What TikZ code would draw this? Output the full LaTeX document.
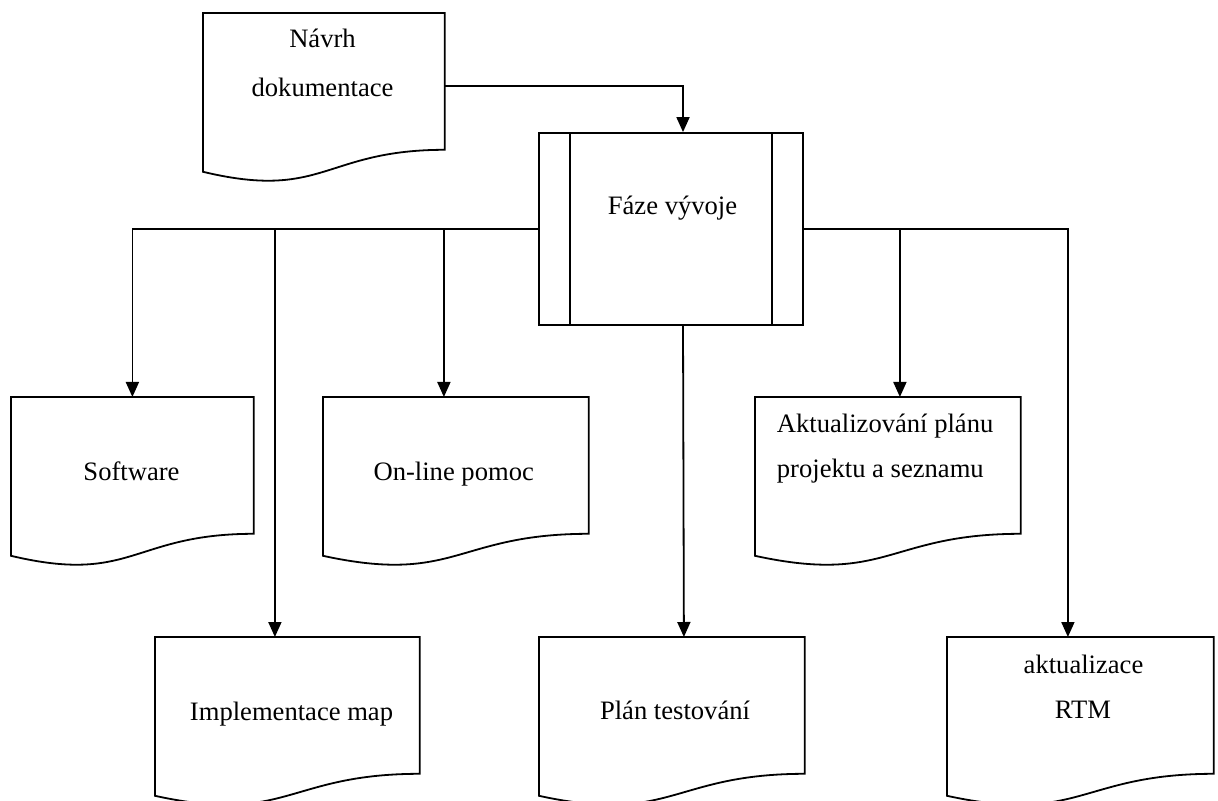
\documentclass[tikz,border=0pt]{standalone}
\usepackage{fontspec}
\setmainfont{Liberation Serif}
\usetikzlibrary{arrows.meta,calc}

% Outline of a flowchart "document" symbol around a docbox node:
% the node covers the flat part, the wavy bottom hangs below it.
\newcommand\drawdocument[1]{%
  \draw (#1.north west) -- (#1.north east) -- (#1.south east)
    .. controls (#1.south) and ($(#1.south)+(0,51)$) ..
    ($(#1.south west)+(0,22)$) -- cycle;}

\begin{document}
\begin{tikzpicture}[x=0.5pt,y=-0.5pt,
  line width=0.9pt,
  docbox/.style={rectangle, draw=none, inner sep=0pt, anchor=north west,
                 minimum height=67.5pt},
  doctext/.style={font=\fontsize{13.3}{16}\selectfont, inner sep=0pt, anchor=base},
  arr/.style={-{Triangle[length=7.5pt,width=6.5pt]}},
]
\useasboundingbox (0,0) rectangle (1218,801);
\clip (0,0) rectangle (1218,801);

% document boxes
\node[docbox, minimum width=120pt]   (navrh)    at (203,13)  {};
\node[docbox, minimum width=120.5pt] (software) at (11,397)  {};
\node[docbox, minimum width=132pt]   (online)   at (323,397) {};
\node[docbox, minimum width=132pt]   (akt)      at (755,397) {};
\node[docbox, minimum width=131.5pt] (impl)     at (155,637) {};
\node[docbox, minimum width=132pt]   (plan)     at (539,637) {};
\node[docbox, minimum width=132.5pt] (rtm)      at (947,637) {};
\foreach \n in {navrh,software,online,akt,impl,plan,rtm}{\drawdocument{\n}}

% predefined process box
\node[draw, rectangle, inner sep=0pt, minimum width=132pt, minimum height=96pt]
  (faze) at (671,229) {};
\draw ($(faze.north west)+(32,0)$) -- ($(faze.south west)+(32,0)$);
\draw ($(faze.north east)+(-32,0)$) -- ($(faze.south east)+(-32,0)$);

% labels
\node[doctext] (navrh-t1) at (322.5,48) {Návrh};
\node[doctext] (navrh-t2) at (322.5,97) {dokumentace};
\node[doctext] (faze-t) at (672.5,215) {Fáze vývoje};
\node[doctext] (software-t) at (131.5,480) {Software};
\node[doctext] (online-t) at (453.7,480) {On-line pomoc};
\node[doctext, anchor=base west] (akt-t1) at (776,432) {Aktualizování plánu};
\node[doctext, anchor=base west] (akt-t2) at (776,477) {projektu a seznamu};
\node[doctext] (impl-t) at (291.5,720) {Implementace map};
\node[doctext] (plan-t) at (675,719) {Plán testování};
\node[doctext] (rtm-t1) at (1083.5,673) {aktualizace};
\node[doctext] (rtm-t2) at (1083,718) {RTM};

% arrow entry points
\coordinate (faze-in)   at ($(faze.north)+(12,0)$);
\coordinate (online-in) at ($(online.north)+(-12,0)$);
\coordinate (impl-in)   at ($(impl.north)+(-12.5,0)$);
\coordinate (plan-in)   at ($(plan.north)+(12,0)$);
\coordinate (akt-in)    at ($(akt.north)+(12,0)$);
\coordinate (rtm-in)    at ($(rtm.north)+(-12.5,0)$);
\coordinate (navrh-out) at ($(navrh.north east)+(0,73)$);

% connectors
\draw[arr] (navrh-out) -| (faze-in);
\draw[arr] (faze.west) -| (software.north);
\draw[arr] (faze.west -| impl-in) -- (impl-in);
\draw[arr] (faze.west -| online-in) -- (online-in);
\draw[arr] (faze-in |- faze.south) -- (plan-in);
\draw[arr] (faze.east) -| (rtm-in);
\draw[arr] (faze.east -| akt-in) -- (akt-in);
\end{tikzpicture}
\end{document}
